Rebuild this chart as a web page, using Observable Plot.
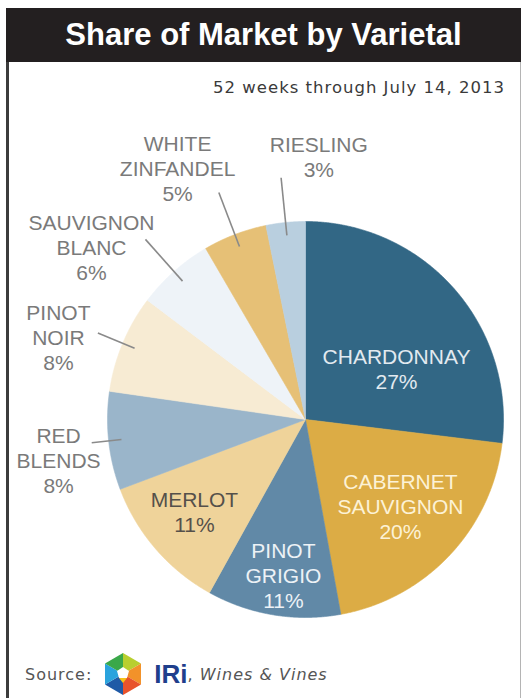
<!DOCTYPE html>
<html>
<head>
<meta charset="utf-8">
<script src="https://cdn.jsdelivr.net/npm/d3@7"></script>
<script src="https://cdn.jsdelivr.net/npm/@observablehq/plot@0.6"></script>
<style>
  html, body { margin: 0; padding: 0; background: #fff; }
  body { width: 523px; height: 698px; position: relative; overflow: hidden; }
  #frame { position: absolute; left: 6px; top: 8px; width: 515px; height: 700px; box-sizing: border-box;
           border-left: 3px solid #3c3c3c; border-right: 1.5px solid #b4b4b4; }
  #title { position: absolute; left: 6px; top: 8px; width: 515px; height: 54px; background: #231f20;
           color: #fff; font: bold 31px "Liberation Sans", Arial, sans-serif; display: flex;
           align-items: center; justify-content: center; }
  #subtitle { position: absolute; right: 18px; top: 78px; font: 16.5px/20px "DejaVu Sans", sans-serif;
              letter-spacing: 1px; color: #3a3a3a; white-space: nowrap; }
  #chart { position: absolute; left: 0; top: 100px; }
  #source { position: absolute; left: 25px; top: 652px; height: 44px; display: flex; align-items: center;
            font: 16px "DejaVu Sans", sans-serif; letter-spacing: 1px; color: #555; white-space: nowrap; }
  #source .iri { font: bold 26px "Liberation Sans", Arial, sans-serif; color: #1f3f8c; letter-spacing: 0; margin-left: 11px; }
  #source .ww { font-style: italic; }
</style>
</head>
<body>
<div id="frame"></div>
<div id="title">Share of Market by Varietal</div>
<div id="subtitle">52 weeks through July 14, 2013</div>
<div id="chart"></div>
<div id="source">
  <span>Source:</span>
  <svg width="40" height="44" viewBox="-20 -22 40 44" style="margin-left:11px">
    <polygon points="0,-21 18,-10.5 0,0" fill="#b8cf2f"/>
    <polygon points="18,-10.5 18,10.5 0,0" fill="#f2922a"/>
    <polygon points="18,10.5 0,21 0,0" fill="#e8532b"/>
    <polygon points="0,21 -18,10.5 0,0" fill="#1f5aa6"/>
    <polygon points="-18,10.5 -18,-10.5 0,0" fill="#2aa3dd"/>
    <polygon points="-18,-10.5 0,-21 0,0" fill="#3aa84a"/>
    <polygon points="0,-7 6,-3 4,4 -4,4 -6,-3" fill="#ffffff"/>
    <polygon points="-4,4 4,4 0,9" fill="#f7c21a"/>
  </svg>
  <span class="iri">IRi</span><span>,&nbsp;</span><span class="ww">Wines &amp; Vines</span>
</div>
<script>
// ---- data ----
const varietals = ["CHARDONNAY", "CABERNET\nSAUVIGNON", "PINOT\nGRIGIO", "MERLOT", "RED\nBLENDS",
                   "PINOT\nNOIR", "SAUVIGNON\nBLANC", "WHITE\nZINFANDEL", "RIESLING"];
const shares = [26.9, 20.2, 10.9, 11.2, 8.0, 8.0, 6.3, 5.2, 3.2];
const sliceColors = ["#326785", "#dcac45", "#6189a7", "#efd39a", "#9ab5ca", "#f7ebd3", "#eef3f8", "#e6c076", "#b9cfdf"];

// ---- layout ----
const labelAngle  = [60.5, 132.2, 188.1, 230.5, 260.6, 288.4, 308.8, 333, 2.9];   // degrees, clockwise from top
const labelRadius = [0.528, 0.647, 0.791, 0.727, 1.264, 1.315, 1.387, 1.423, 1.33];
const leaderOuter = [null, null, null, null, 1.086, 1.136, 1.217, 1.227, 1.227];
const leaderInner = 0.935;
const labelColors = ["#e2eaf0", "#fcf2d6", "#edf2f6", "#55504a", "#7a7a7a", "#7a7a7a", "#7a7a7a", "#7a7a7a", "#7a7a7a"];

const W = 523, H = 540, R = 198, cx = 305, cy = 319;

const arcs = d3.pie().sort(null).value(d => d)(shares);
const slices = arcs.flatMap((a, i) => {
  const pts = [{name: varietals[i], x: 0, y: 0}];
  const n = Math.ceil((a.endAngle - a.startAngle) / (Math.PI / 720));
  for (let k = 0; k <= n; k++) {
    const t = a.startAngle + (a.endAngle - a.startAngle) * k / n;
    pts.push({name: varietals[i], x: Math.sin(t), y: Math.cos(t)});
  }
  pts.push({name: varietals[i], x: 0, y: 0});
  return pts;
});

const labels = varietals.map((v, i) => {
  const t = labelAngle[i] * Math.PI / 180;
  return {i, text: v + "\n" + Math.round(shares[i]) + "%", x: labelRadius[i] * Math.sin(t), y: labelRadius[i] * Math.cos(t)};
});

const leaders = arcs.map((a, i) => {
  if (leaderOuter[i] == null) return null;
  const t = (a.startAngle + a.endAngle) / 2;
  return {x1: leaderInner * Math.sin(t), y1: leaderInner * Math.cos(t),
          x2: leaderOuter[i] * Math.sin(t), y2: leaderOuter[i] * Math.cos(t)};
}).filter(d => d);

const chart = Plot.plot({
  width: W, height: H, margin: 0,
  style: {background: "transparent", overflow: "visible"},
  x: {domain: [-cx / R, (W - cx) / R], axis: null},
  y: {domain: [-(H - cy) / R, cy / R], axis: null},
  color: {domain: varietals, range: sliceColors},
  marks: [
    Plot.line(slices, {x: "x", y: "y", z: "name", fill: "name", stroke: "name", strokeWidth: 0.6, curve: "linear"}),
    Plot.link(leaders, {x1: "x1", y1: "y1", x2: "x2", y2: "y2", stroke: "#8a8a8a", strokeWidth: 1.6}),
    ...labels.map(d => Plot.text([d], {
      x: "x", y: "y", text: "text", fill: labelColors[d.i],
      fontFamily: "Liberation Sans, Arial, sans-serif", fontSize: 21, lineHeight: 1.19,
      textAnchor: "middle", lineAnchor: "middle"
    }))
  ]
});
document.getElementById("chart").appendChild(chart);
</script>
</body>
</html>
